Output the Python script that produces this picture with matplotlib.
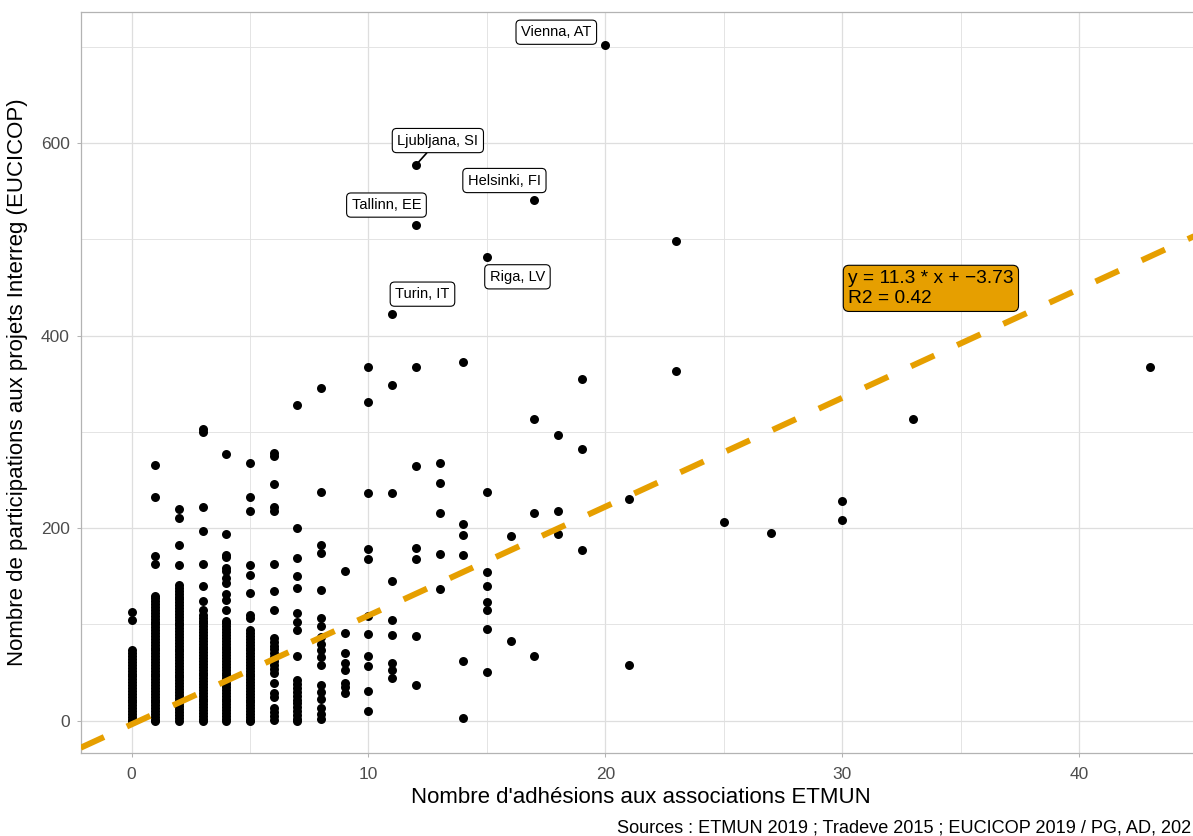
import matplotlib
matplotlib.use("Agg")
import matplotlib.pyplot as plt
from matplotlib.ticker import MultipleLocator

# -------------------------------
# Data
# -------------------------------
col_x = [0, 1, 2, 3, 4, 5, 6, 7, 8, 9, 10, 11, 12, 13, 14, 15, 16, 17, 18, 19,
         21, 23, 25, 27, 30, 33, 43]

col_y = [
    # x = 0
    [113, 105, 73, 70, 67, 64, 61, 58, 55, 52, 49, 46, 43, 40, 37, 34, 31, 28,
     25, 22, 19, 16, 13, 10, 7, 4, 1, 0],
    # x = 1
    [266, 232, 171, 163, 130, 127, 124, 121, 118, 115, 112, 109, 106, 103, 100,
     97, 94, 91, 88, 85, 82, 79, 76, 73, 70, 67, 64, 61, 58, 55, 52, 49, 46, 43,
     40, 37, 34, 31, 28, 25, 22, 19, 16, 13, 10, 7, 4, 1, 0],
    # x = 2
    [220, 211, 183, 162, 141, 138, 135, 132, 129, 126, 123, 120, 117, 114, 111,
     108, 105, 102, 99, 96, 93, 90, 87, 84, 81, 78, 75, 72, 69, 66, 63, 60, 57,
     54, 51, 48, 45, 42, 39, 36, 33, 30, 27, 24, 21, 18, 15, 12, 9, 6, 3, 0],
    # x = 3
    [303, 300, 222, 197, 163, 140, 124, 115, 110, 107, 104, 101, 98, 95, 92, 89,
     86, 83, 80, 77, 74, 71, 68, 65, 62, 59, 56, 53, 50, 47, 44, 41, 38, 35, 32,
     29, 26, 23, 20, 17, 14, 11, 8, 5, 2, 0],
    # x = 4
    [277, 194, 172, 170, 159, 156, 148, 143, 132, 125, 115, 104, 101, 98, 95, 92,
     89, 86, 83, 80, 77, 74, 71, 68, 65, 62, 59, 56, 53, 50, 47, 44, 41, 38, 35,
     32, 29, 26, 23, 20, 17, 14, 11, 8, 5, 2, 0],
    # x = 5
    [268, 232, 218, 162, 151, 133, 110, 107, 94, 91, 88, 85, 82, 79, 76, 73, 70,
     67, 64, 61, 58, 55, 52, 49, 46, 43, 40, 37, 34, 31, 28, 25, 22, 19, 16, 13,
     10, 7, 4, 1, 0],
    # x = 6
    [278, 275, 246, 222, 218, 163, 135, 115, 86, 82, 78, 74, 70, 66, 62, 58, 54,
     50, 39, 29, 25, 13, 9, 5, 1],
    # x = 7
    [328, 200, 169, 150, 138, 112, 103, 94, 67, 42, 38, 34, 30, 26, 22, 18, 14,
     10, 6, 2, 0],
    # x = 8
    [346, 238, 183, 174, 136, 107, 98, 87, 80, 73, 66, 58, 37, 30, 23, 13, 7, 2],
    # x = 9
    [155, 91, 70, 60, 53, 39, 35, 29],
    # x = 10
    [367, 331, 236, 178, 168, 109, 90, 67, 57, 31, 10],
    # x = 11
    [422, 349, 236, 145, 105, 89, 60, 53, 44],
    # x = 12
    [577, 515, 367, 265, 179, 168, 88, 37],
    # x = 13
    [268, 247, 216, 173, 137],
    # x = 14
    [373, 204, 193, 172, 62, 3],
    # x = 15
    [482, 238, 154, 140, 123, 115, 95, 51],
    # x = 16
    [192, 83],
    # x = 17
    [541, 313, 216, 67],
    # x = 18
    [297, 218, 194],
    # x = 19
    [355, 282, 177],
    # x = 21
    [230, 58],
    # x = 23
    [498, 363],
    # x = 25
    [206],
    # x = 27
    [195],
    # x = 30
    [228, 208],
    # x = 33
    [313],
    # x = 43
    [367],
]

# Vienna is the single point at x = 20
extra_x = [20]
extra_y = [702]

# labelled cities
city_names = ["Vienna, AT", "Ljubljana, SI", "Helsinki, FI", "Tallinn, EE",
              "Riga, LV", "Turin, IT"]
city_x = [20, 12, 17, 12, 15, 11]
city_y = [702, 577, 541, 515, 482, 422]

# regression line
slope = 11.3
intercept = -3.73
r2 = 0.42

# caption as it appears (cut by the right border of the reference)
caption = "Sources : ETMUN 2019 ; Tradeve 2015 ; EUCICOP 2019 / PG, AD, 202"

# -------------------------------
# Build point arrays
# -------------------------------
xs, ys = [], []
for x, vals in zip(col_x, col_y):
    xs += [x] * len(vals)
    ys += vals
xs += extra_x
ys += extra_y

# -------------------------------
# Figure
# -------------------------------
plt.rcParams['font.family'] = ['Liberation Sans', 'DejaVu Sans']

W, H = 1193, 836
fig = plt.figure(figsize=(W / 100, H / 100), dpi=100)
left, right, top, bottom = 80.7, 1201, 12, 753
ax = fig.add_axes([left / W, (H - bottom) / H, (right - left) / W, (bottom - top) / H])

xmin, xmax = -2.15, 45.15
ymin, ymax = -33.5, 736
ax.set_xlim(xmin, xmax)
ax.set_ylim(ymin, ymax)

# grid (theme_light style)
ax.set_axisbelow(True)
ax.xaxis.set_major_locator(MultipleLocator(10))
ax.xaxis.set_minor_locator(MultipleLocator(5))
ax.yaxis.set_major_locator(MultipleLocator(200))
ax.yaxis.set_minor_locator(MultipleLocator(100))
ax.grid(which='major', color='#DEDEDE', linewidth=0.9)
ax.grid(which='minor', color='#E2E2E2', linewidth=0.65)
ax.tick_params(which='minor', length=0)
ax.tick_params(which='major', length=3, width=0.75, color='#B3B3B3',
               labelcolor='#4D4D4D', labelsize=12.5)
ax.tick_params(axis='y', pad=5)
ax.tick_params(axis='x', pad=7)
for sp in ax.spines.values():
    sp.set_color('#B3B3B3')
    sp.set_linewidth(0.9)

# points
ax.scatter(xs, ys, s=42, color='black', linewidths=0, zorder=3)

# regression line across the full panel
lx = [xmin, xmax]
ly = [slope * v + intercept for v in lx]
ax.plot(lx, ly, color='#E69F00', linewidth=4.3, dashes=(4.3, 4.2),
        solid_capstyle='butt', dash_capstyle='butt', zorder=4)

# equation label
ax.text(30.25, 449, f"y = {slope} * x + \u2212{abs(intercept)}\nR2 = {r2}",
        fontsize=13.8, ha='left', va='center', linespacing=1.2, zorder=6,
        bbox=dict(boxstyle='round,pad=0.25,rounding_size=0.3',
                  fc='#E69F00', ec='black', lw=0.8))

# city labels (repelled positions)
label_x = [17.93, 12.93, 15.74, 10.76, 16.29, 12.28]
label_y = [715, 602.5, 561, 535.5, 461, 443]
for name, px, py, tx, ty in zip(city_names, city_x, city_y, label_x, label_y):
    arrow = dict(arrowstyle='-', color='black', lw=1.2, shrinkA=0, shrinkB=3) \
        if name.startswith("Ljubljana") else None
    ax.annotate(name, xy=(px, py), xytext=(tx, ty), fontsize=10.5,
                ha='center', va='center', zorder=7, arrowprops=arrow,
                bbox=dict(boxstyle='round,pad=0.35,rounding_size=0.3',
                          fc='white', ec='black', lw=0.8))

ax.set_xlabel("Nombre d'adhésions aux associations ETMUN", fontsize=16,
              color='black', labelpad=4)
ax.set_ylabel("Nombre de participations aux projets Interreg (EUCICOP)",
              fontsize=16, color='black', labelpad=9)

fig.text(1191 / W, 1 - 828 / H, caption,
         fontsize=13.1, ha='right', va='center', color='black')

fig.savefig("out.png", dpi=100)
